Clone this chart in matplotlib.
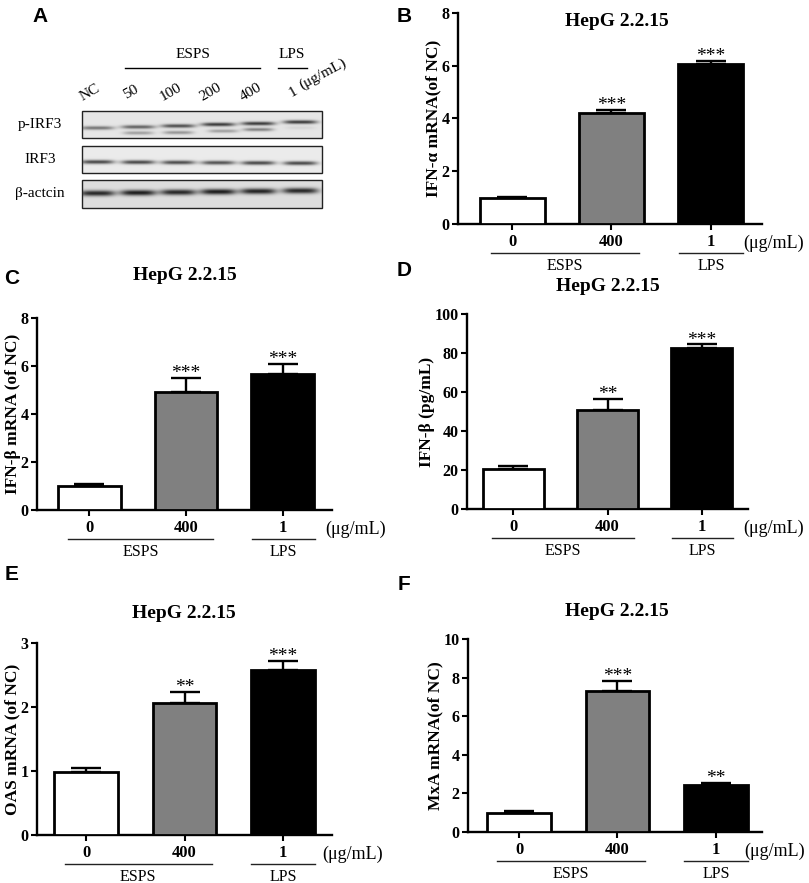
import numpy as np
import matplotlib
matplotlib.use('Agg')
import matplotlib.pyplot as plt
from matplotlib.patches import Rectangle
from matplotlib import transforms

W, H = 809, 883
SERIF = 'Liberation Serif'
SANS = 'Liberation Sans'

# ---- bar chart data ----
doses = ['0', '400', '1']
bar_colors = ['white', '#808080', 'black']

b_vals = [0.97, 4.22, 6.05]
b_err = [0.07, 0.12, 0.14]
b_sig = ['', '***', '***']

c_vals = [1.0, 4.93, 5.65]
c_err = [0.1, 0.56, 0.43]
c_sig = ['', '***', '***']

d_vals = [20.3, 50.8, 82.7]
d_err = [1.7, 5.6, 1.7]
d_sig = ['', '**', '***']

e_vals = [0.99, 2.07, 2.58]
e_err = [0.06, 0.17, 0.14]
e_sig = ['', '**', '***']

f_vals = [0.97, 7.32, 2.45]
f_err = [0.12, 0.5, 0.09]
f_sig = ['', '***', '**']

# ---- western blot data (relative band darkness per lane) ----
lane_labels = ['NC', '50', '100', '200', '400', '1']
blot_rows = ['p-IRF3', 'IRF3', 'β-actcin']
pirf3_upper = [0.55, 0.65, 0.75, 0.85, 0.85, 0.85]
pirf3_lower = [0.0, 0.35, 0.4, 0.35, 0.5, 0.08]
irf3_band = [0.8, 0.8, 0.78, 0.75, 0.8, 0.8]
actin_band = [0.9, 0.95, 0.9, 0.95, 0.92, 0.9]


def px_rect(l, t, r, b):
    return [l / W, 1 - b / H, (r - l) / W, (b - t) / H]


fig = plt.figure(figsize=(W / 100, H / 100), dpi=100)

# overlay in pixel coordinates for panel A and panel letters
ov = fig.add_axes([0, 0, 1, 1])
ov.set_xlim(0, W)
ov.set_ylim(H, 0)
ov.axis('off')

for letter, (x, y) in zip('ABCDEF', [(40, 16), (404, 16), (12, 279), (404, 271), (12, 574), (404, 584)]):
    ov.text(x, y, letter, family=SANS, weight='bold', fontsize=15, ha='center', va='center')

# ---- panel A: blot ----
bx0, bx1 = 82, 322
lane_x = [97, 138, 178, 218, 258, 300]
strips = [(111, 138), (146, 173), (180, 208)]
res = 0.5


def strip_image(y0, y1, bg, bands):
    xs = np.arange(bx0, bx1, res)
    ys = np.arange(y0, y1, res)
    X, Y = np.meshgrid(xs, ys)
    img = np.full(X.shape, bg)
    for cx, cy, amp, hw, sy in bands:
        img -= amp * 0.8 * np.exp(-((X - cx) / hw) ** 4) * np.exp(-((Y - cy) ** 2) / (2 * sy ** 2))
    return np.clip(img, 0, 1)


up_y = [127.7, 126.7, 125.7, 124.2, 123.3, 121.8]
lo_y = [133, 132.7, 132.3, 130.8, 129.3, 127.5]
bands_p = [(lane_x[i], up_y[i], pirf3_upper[i], 17, 1.3) for i in range(6)]
bands_p += [(lane_x[i] + (5 if i == 3 else 0), lo_y[i], pirf3_lower[i], 15, 1.2) for i in range(6)]
bands_i = [(lane_x[i], 161.7 + 0.25 * i, irf3_band[i], 17, 1.4) for i in range(6)]
bands_a = [(lane_x[i], 193 - 0.5 * i, actin_band[i], 18, 2.0) for i in range(6)]

for (y0, y1), bg, bands in zip(strips, [0.9, 0.92, 0.87], [bands_p, bands_i, bands_a]):
    img = strip_image(y0, y1, bg, bands)
    ov.imshow(img, cmap='gray', vmin=0, vmax=1, extent=(bx0, bx1, y1, y0),
              aspect='auto', interpolation='bilinear')
    ov.add_patch(Rectangle((bx0, y0), bx1 - bx0, y1 - y0, fill=False, lw=1.0, ec='#222222'))

for name, (y0, y1) in zip(blot_rows, strips):
    ov.text(40, (y0 + y1) / 2, name, family=SERIF, fontsize=11, ha='center', va='center')

for lab, x in zip(lane_labels, lane_x):
    ov.text(x - 4, 98, lab, family=SERIF, fontsize=11, rotation=30, ha='center', va='bottom',
            rotation_mode='anchor')
ov.text(303, 92, '(μg/mL)', family=SERIF, fontsize=11, rotation=28, ha='left', va='bottom',
        rotation_mode='anchor')
ov.text(193, 55, 'ESPS', family=SERIF, fontsize=11, ha='center', va='center')
ov.plot([125, 260], [68, 68], color='black', lw=1.0)
ov.text(292, 55, 'LPS', family=SERIF, fontsize=11, ha='center', va='center')
ov.plot([278, 307], [68, 68], color='black', lw=1.0)


# ---- bar panels ----
def bar_panel(rect, vals, err, sig, ymax, step, ylabel, title_xy, xlim, unit_x):
    ax = fig.add_axes(px_rect(*rect))
    x = np.arange(len(vals))
    ax.bar(x, vals, width=0.65, color=bar_colors, edgecolor='black', linewidth=2.0, zorder=3)
    ax.errorbar(x, vals, yerr=[np.zeros(len(vals)), err], fmt='none', ecolor='black',
                elinewidth=1.7, capsize=11, capthick=1.7, zorder=2)
    for xi, v, e, s in zip(x, vals, err, sig):
        if s:
            ax.annotate(s, (xi, v + e), xytext=(0, -3), textcoords='offset points',
                        ha='center', va='bottom', family=SERIF, fontsize=14)
    ax.set_xlim(*xlim)
    ax.set_ylim(0, ymax)
    ax.set_yticks(np.arange(0, ymax + step / 2, step))
    ax.set_xticks(x)
    ax.set_xticklabels(doses)
    for sp in ['top', 'right']:
        ax.spines[sp].set_visible(False)
    for sp in ['left', 'bottom']:
        ax.spines[sp].set_linewidth(1.7)
    ax.tick_params(axis='y', direction='out', length=4, width=1.5, labelsize=11.5, pad=2)
    ax.tick_params(axis='x', direction='out', length=4, width=1.5, labelsize=12, pad=3)
    for t in ax.get_xticklabels() + ax.get_yticklabels():
        t.set_family(SERIF)
        t.set_weight('bold')
    ax.set_ylabel(ylabel, family=SERIF, weight='bold', fontsize=12.5, labelpad=0)
    ax.patch.set_alpha(0)

    tr = transforms.blended_transform_factory(ax.transData, ax.transAxes)
    ax.annotate('(μg/mL)', (unit_x, 0), xycoords=tr, xytext=(0, -14), textcoords='offset points',
                ha='left', va='center', family=SERIF, fontsize=13, annotation_clip=False)
    for (a, b), name in zip([(-0.22, 1.28), (1.68, 2.33)], ['ESPS', 'LPS']):
        line = plt.Line2D([a, b], [0, 0],
                          transform=tr + transforms.ScaledTranslation(0, -29 / 100, fig.dpi_scale_trans),
                          color='#222222', lw=1.0, clip_on=False)
        ax.add_line(line)
        ax.annotate(name, ((a + b) / 2, 0), xycoords=tr, xytext=(0, -30), textcoords='offset points',
                    ha='center', va='center', family=SERIF, fontsize=11.5, annotation_clip=False)
    fig.text(title_xy[0] / W, 1 - title_xy[1] / H, 'HepG 2.2.15', family=SERIF, weight='bold',
             fontsize=14, ha='center', va='center')
    return ax


bar_panel((458, 13, 762, 224), b_vals, b_err, b_sig, 8, 2, 'IFN-α mRNA(of NC)', (617, 22), (-0.55, 2.52), 2.33)
bar_panel((37, 318, 332, 510), c_vals, c_err, c_sig, 8, 2, 'IFN-β mRNA (of NC)', (185, 275), (-0.54, 2.51), 2.44)
bar_panel((467, 314, 748, 509), d_vals, d_err, d_sig, 100, 20, 'IFN-β (pg/mL)', (608, 287), (-0.49, 2.49), 2.44)
bar_panel((37, 643, 332, 835), e_vals, e_err, e_sig, 3, 1, 'OAS mRNA (of NC)', (184, 613), (-0.5, 2.5), 2.4)
bar_panel((468, 639, 762, 832), f_vals, f_err, f_sig, 10, 2, 'MxA mRNA(of NC)', (617, 612), (-0.52, 2.47), 2.29)

fig.savefig('out.png', dpi=100)
